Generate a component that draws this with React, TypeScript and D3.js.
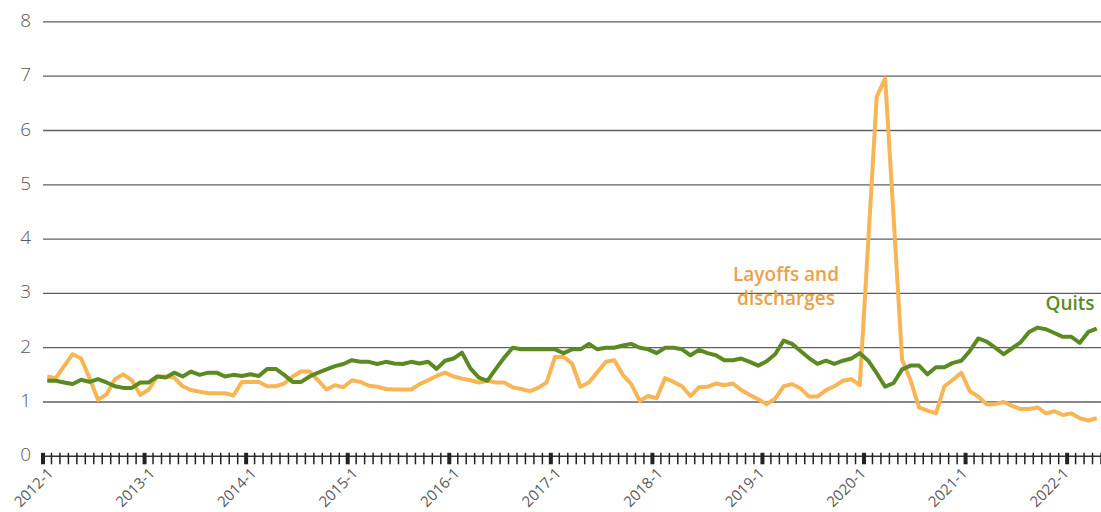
import React, { useEffect, useRef } from 'react';
import * as d3 from 'd3';

// Monthly categories 2012-1 .. 2022-5
const firstYear = 2012;
const monthCount = 125;

const yearLabels = ['2012-1', '2013-1', '2014-1', '2015-1', '2016-1', '2017-1', '2018-1', '2019-1', '2020-1', '2021-1', '2022-1'];
// the source chart's heavy tick marks (slot boundaries) drift by one slot after 2018
const majorTickSlots = [0, 12, 24, 36, 48, 60, 72, 85, 97, 109, 121];

const yTicks = [0, 1, 2, 3, 4, 5, 6, 7, 8];

const quits = [
  1.39, 1.39, 1.36, 1.33, 1.41, 1.37, 1.42, 1.36, 1.29, 1.26, 1.26, 1.36,
  1.36, 1.47, 1.45, 1.54, 1.47, 1.56, 1.50, 1.54, 1.54, 1.47, 1.50, 1.48,
  1.51, 1.48, 1.61, 1.61, 1.50, 1.37, 1.37, 1.47, 1.54, 1.60, 1.66, 1.70,
  1.77, 1.74, 1.74, 1.70, 1.74, 1.71, 1.70, 1.74, 1.71, 1.74, 1.61, 1.76,
  1.80, 1.91, 1.62, 1.45, 1.39, 1.61, 1.82, 2.00, 1.97, 1.97, 1.97, 1.97,
  1.97, 1.90, 1.97, 1.97, 2.07, 1.97, 2.00, 2.00, 2.04, 2.07, 2.00, 1.97,
  1.90, 2.00, 2.00, 1.97, 1.86, 1.96, 1.90, 1.86, 1.77, 1.77, 1.80, 1.74,
  1.67, 1.75, 1.88, 2.13, 2.07, 1.94, 1.81, 1.70, 1.76, 1.70, 1.76, 1.80,
  1.90, 1.76, 1.53, 1.28, 1.35, 1.60, 1.67, 1.67, 1.51, 1.64, 1.64, 1.72,
  1.76, 1.94, 2.17, 2.11, 2.00, 1.88, 1.99, 2.10, 2.29, 2.37, 2.34, 2.27,
  2.20, 2.20, 2.09, 2.29, 2.35,
];

const layoffs = [
  1.47, 1.44, 1.66, 1.88, 1.80, 1.44, 1.04, 1.14, 1.42, 1.51, 1.40, 1.13,
  1.23, 1.47, 1.47, 1.45, 1.29, 1.22, 1.19, 1.16, 1.16, 1.16, 1.12, 1.37,
  1.37, 1.37, 1.29, 1.29, 1.34, 1.47, 1.56, 1.56, 1.40, 1.23, 1.31, 1.27,
  1.40, 1.37, 1.30, 1.28, 1.24, 1.23, 1.23, 1.23, 1.33, 1.40, 1.48, 1.54,
  1.47, 1.43, 1.40, 1.36, 1.39, 1.36, 1.36, 1.27, 1.24, 1.20, 1.26, 1.36,
  1.83, 1.83, 1.71, 1.28, 1.36, 1.55, 1.74, 1.77, 1.50, 1.33, 1.02, 1.11,
  1.07, 1.44, 1.37, 1.29, 1.11, 1.27, 1.28, 1.34, 1.31, 1.34, 1.22, 1.13,
  1.05, 0.96, 1.06, 1.29, 1.33, 1.25, 1.10, 1.10, 1.22, 1.29, 1.39, 1.42,
  1.31, 3.95, 6.62, 6.96, 4.40, 1.78, 1.40, 0.90, 0.84, 0.79, 1.29, 1.41,
  1.54, 1.20, 1.10, 0.96, 0.96, 1.00, 0.93, 0.87, 0.87, 0.90, 0.79, 0.83,
  0.76, 0.79, 0.70, 0.66, 0.70,
];

const categories: string[] = d3.range(monthCount).map(
  i => `${firstYear + Math.floor(i / 12)}-${(i % 12) + 1}`
);

const W = 1101;
const H = 512;

const App: React.FC = () => {
  const ref = useRef<SVGSVGElement>(null);

  useEffect(() => {
    if (!ref.current) return;
    const svg = d3.select(ref.current);
    svg.selectAll('*').remove();

    const x = d3.scaleBand<string>().domain(categories).range([43, W]).padding(0);
    const y = d3.scaleLinear().domain([0, 8]).range([456.3, 21.9]);
    const cx = (c: string) => (x(c) as number) + x.bandwidth() / 2;

    const font = "'Open Sans', 'Segoe UI', sans-serif";

    // gridlines
    svg.append('g')
      .selectAll('line')
      .data(yTicks.filter(t => t > 0))
      .join('line')
      .attr('x1', 43)
      .attr('x2', W)
      .attr('y1', d => y(d))
      .attr('y2', d => y(d))
      .style('stroke', '#5f5f5f')
      .style('stroke-width', 1.3);

    // y labels
    svg.append('g')
      .selectAll('text')
      .data(yTicks)
      .join('text')
      .attr('x', 31)
      .attr('y', d => y(d) + 5)
      .attr('text-anchor', 'end')
      .style('font-family', font)
      .style('font-weight', 300)
      .style('font-size', '19px')
      .style('fill', '#595959')
      .text(d => d);

    // x axis line + ticks at category boundaries
    const axisY = y(0);
    const ax = svg.append('g');
    ax.append('line')
      .attr('x1', 43)
      .attr('x2', W)
      .attr('y1', axisY)
      .attr('y2', axisY)
      .style('stroke', '#333')
      .style('stroke-width', 1.5);

    const bounds = d3.range(monthCount + 1).map(i => ({
      x: i < monthCount ? (x(categories[i]) as number) : W,
      major: majorTickSlots.includes(i),
    }));

    ax.selectAll('line.tick')
      .data(bounds)
      .join('line')
      .attr('class', 'tick')
      .attr('x1', d => d.x)
      .attr('x2', d => d.x)
      .attr('y1', axisY - 3.5)
      .attr('y2', axisY + 8)
      .style('stroke', '#222')
      .style('stroke-width', d => (d.major ? 4 : 1.5));

    // year labels, one every 12 slots
    ax.selectAll('text')
      .data(yearLabels)
      .join('text')
      .attr('transform', (d, k) => `translate(${cx(categories[k * 12]) + 7}, ${axisY + 18}) rotate(-45)`)
      .attr('text-anchor', 'end')
      .style('font-family', font)
      .style('font-size', '15px')
      .style('fill', '#595959')
      .text(d => d);

    // series
    const line = d3.line<number>()
      .x((_, i) => cx(categories[i]))
      .y(d => y(d));

    svg.append('path')
      .datum(layoffs)
      .attr('d', line)
      .style('fill', 'none')
      .style('stroke', '#F7B555')
      .style('stroke-width', 4)
      .style('stroke-linejoin', 'round');

    svg.append('path')
      .datum(quits)
      .attr('d', line)
      .style('fill', 'none')
      .style('stroke', '#5B8A22')
      .style('stroke-width', 4)
      .style('stroke-linejoin', 'round');

    // series labels
    const lab = svg.append('text')
      .attr('text-anchor', 'middle')
      .style('font-family', font)
      .style('font-weight', 600)
      .style('font-size', '19px')
      .style('fill', '#E9A24A');
    lab.append('tspan').attr('x', 786).attr('y', 281).text('Layoffs and');
    lab.append('tspan').attr('x', 786).attr('y', 305).text('discharges');

    svg.append('text')
      .attr('x', 1070)
      .attr('y', 310)
      .attr('text-anchor', 'middle')
      .style('font-family', font)
      .style('font-weight', 600)
      .style('font-size', '19px')
      .style('fill', '#5B8A22')
      .text('Quits');
  }, []);

  return (
    <svg
      ref={ref}
      width={W}
      height={H}
      style={{ position: 'absolute', left: 0, top: 0, display: 'block', background: '#fff' }}
    />
  );
};

export default App;
